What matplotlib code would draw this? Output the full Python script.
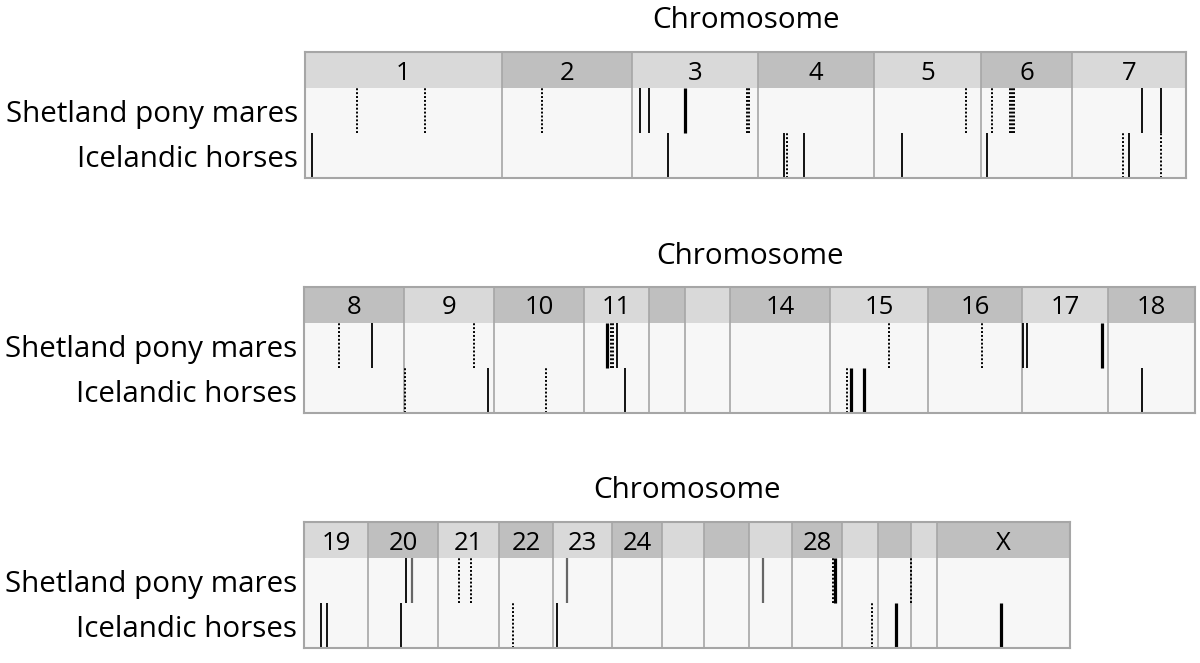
import numpy as np
import matplotlib
matplotlib.use("agg")
import matplotlib.pyplot as plt

plt.rcParams["font.family"] = ["Open Sans", "DejaVu Sans"]

# Chromosome labels and their drawn widths (relative length units)
CHROMS_1	= ["1", "2", "3", "4", "5", "6", "7"]
WIDTHS_1	= [197, 130, 126, 116, 107, 91, 114]
CHROMS_2	= ["8", "9", "10", "11", "", "", "14", "15", "16", "17", "18"]
WIDTHS_2	= [100, 90, 90, 65, 36, 45, 100, 98, 94, 86, 87]
CHROMS_3	= ["19", "20", "21", "22", "23", "24", "", "", "", "28", "", "", "", "X"]
WIDTHS_3	= [64, 70, 61, 54, 59, 50, 42, 45, 43, 50, 36, 33, 26, 133]

# Marker positions along each panel, with style:
# s = solid, t = thick solid, g = grey solid, d = dotted
SHET_POS_1	= [52, 120, 237, 335, 344, 380, 442, 444, 661, 687, 705, 707, 709, 837, 856]
SHET_STY_1	= ["d", "d", "d", "s", "s", "t", "d", "d", "d", "d", "d", "d", "d", "s", "s"]
ICE_POS_1	= [7, 363, 479, 482, 499, 597, 682, 818, 824, 856]
ICE_STY_1	= ["s", "s", "s", "d", "s", "s", "s", "d", "s", "d"]

SHET_POS_2	= [35, 68, 170, 303, 307, 309, 313, 585, 678, 719, 723, 798]
SHET_STY_2	= ["d", "s", "d", "t", "d", "d", "s", "d", "d", "s", "s", "t"]
ICE_POS_2	= [101, 184, 242, 321, 543, 547, 560, 838]
ICE_STY_2	= ["d", "s", "d", "s", "d", "t", "t", "s"]

SHET_POS_3	= [102, 108, 155, 167, 263, 459, 529, 531, 607]
SHET_STY_3	= ["s", "g", "d", "d", "g", "g", "d", "t", "d"]
ICE_POS_3	= [17, 23, 97, 209, 253, 568, 592, 697]
ICE_STY_3	= ["s", "s", "s", "d", "s", "d", "t", "t"]

ROW_LABELS	= ["Shetland pony mares", "Icelandic horses"]

LIGHT		= "#d9d9d9"
DARK		= "#bfbfbf"
BORDER		= "#a6a6a6"
ROW_BG		= "#f7f7f7"

ROW_H		= 45
HEAD_H		= 36

STYLES = {
	"s": dict(colors="black", linestyles="solid", linewidths=1.3),
	"t": dict(colors="black", linestyles="solid", linewidths=2.3),
	"g": dict(colors="#666666", linestyles="solid", linewidths=1.6),
	"d": dict(colors="black", linestyles=(0, (1, 1)), linewidths=1.4),
}

def draw_panel(fig, rect, chroms, widths, start_idx, shet, ice):
	"""
	Draws one block of chromosomes with header and two marker rows.
	"""
	ax = fig.add_axes(rect)
	total = sum(widths)
	edges = np.concatenate([[0], np.cumsum(widths)])
	lefts = edges[:-1]
	colors = [LIGHT if (start_idx + i) % 2 == 0 else DARK for i in range(len(widths))]

	ax.axhspan(0, 2 * ROW_H, color=ROW_BG, lw=0)
	ax.bar(lefts, HEAD_H, width=widths, bottom=2 * ROW_H, align="edge", color=colors, lw=0)
	for lab, l, w in zip(chroms, lefts, widths):
		ax.text(l + w / 2, 2 * ROW_H + HEAD_H / 2 - 3, lab, ha="center", va="center", fontsize=18.5)

	ax.vlines(edges[1:-1], 0, 2 * ROW_H + HEAD_H, colors=BORDER, linewidths=1.2)

	for (pos, sty), y0 in ((shet, ROW_H), (ice, 0)):
		for p, s in zip(pos, sty):
			ax.vlines(p, y0, y0 + ROW_H, **STYLES[s])

	ax.set_xlim(0, total)
	ax.set_ylim(0, 2 * ROW_H + HEAD_H)
	ax.set_xticks([])
	ax.set_yticks([])
	for sp in ax.spines.values():
		sp.set_color(BORDER)
		sp.set_linewidth(1.5)

	ax.text(0.5, 1.0 + 31 / 126, "Chromosome", transform=ax.transAxes,
		ha="center", va="center", fontsize=21.3)
	# labels sit a little below the row middle, as in the source
	for lab, y in zip(ROW_LABELS, (1.5 * ROW_H - 4, 0.5 * ROW_H - 4)):
		ax.text(-7, y, lab, ha="right", va="center", fontsize=21.3)
	return ax

if __name__ == "__main__":
	W, H = 1200, 663
	fig = plt.figure(figsize=(W / 100, H / 100), dpi=100)

	def rect(x0, x1, y0, y1):
		return [x0 / W, 1 - y1 / H, (x1 - x0) / W, (y1 - y0) / H]

	draw_panel(fig, rect(305, 1186, 52, 178), CHROMS_1, WIDTHS_1, 0,
		(SHET_POS_1, SHET_STY_1), (ICE_POS_1, ICE_STY_1))
	draw_panel(fig, rect(304, 1195, 287, 413), CHROMS_2, WIDTHS_2, 1,
		(SHET_POS_2, SHET_STY_2), (ICE_POS_2, ICE_STY_2))
	draw_panel(fig, rect(304, 1070, 522, 648), CHROMS_3, WIDTHS_3, 0,
		(SHET_POS_3, SHET_STY_3), (ICE_POS_3, ICE_STY_3))

	plt.savefig("out.png", dpi=100)
